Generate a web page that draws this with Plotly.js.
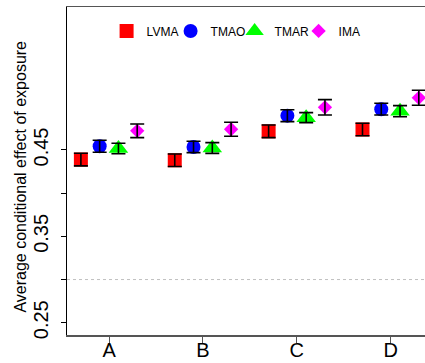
<!DOCTYPE html>
<html>
<head>
<meta charset="utf-8">
<script src="https://cdn.plot.ly/plotly-3.0.1.min.js"></script>
<style>
  html, body { margin: 0; padding: 0; background: #fff; }
  #chart { width: 425px; height: 363px; }
</style>
</head>
<body>
<div id="chart"></div>
<script>
// Exposure groups
const categories = ['A', 'B', 'C', 'D'];

// Estimated average conditional effect of exposure per method
const lvma = [0.4389, 0.4381, 0.4716, 0.4737];
const tmao = [0.4543, 0.4535, 0.4897, 0.4972];
const tmar = [0.4517, 0.4523, 0.4874, 0.4949];
const ima  = [0.4722, 0.4740, 0.4994, 0.5104];

// Half-widths of the confidence intervals
const lvmaErr = [0.0073, 0.0073, 0.0073, 0.0072];
const tmaoErr = [0.0069, 0.0066, 0.0069, 0.0068];
const tmarErr = [0.0060, 0.0062, 0.0058, 0.0064];
const imaErr  = [0.0079, 0.0081, 0.0089, 0.0087];

// y-axis ticks every 0.05, only alternate ones labelled
const yTickVals = [0.25, 0.30, 0.35, 0.40, 0.45];
const yTickText = ['0.25', '', '0.35', '', '0.45'];

const yTitle = 'Average conditional effect of exposure';

const FONT = 'Liberation Sans, Arial, Helvetica, sans-serif';
const catIndex = categories.map((_, i) => i);

const methods = [
  { name: 'LVMA', y: lvma, err: lvmaErr, color: '#ff0000', symbol: 'square',      size: 14, dodge: -0.3 },
  { name: 'TMAO', y: tmao, err: tmaoErr, color: '#0000ff', symbol: 'circle',      size: 14, dodge: -0.1 },
  { name: 'TMAR', y: tmar, err: tmarErr, color: '#00ff00', symbol: 'triangle-up', size: 17, dodge: 0.1 },
  { name: 'IMA',  y: ima,  err: imaErr,  color: '#ff00ff', symbol: 'diamond',     size: 11, dodge: 0.3 }
];

// Coloured point markers (these carry the legend)
const pointTraces = methods.map(m => ({
  type: 'scatter', mode: 'markers', name: m.name,
  x: catIndex.map(i => i + m.dodge), y: m.y,
  marker: { color: m.color, symbol: m.symbol, size: m.size, line: { width: 0 } },
  cliponaxis: false
}));

// Interval whiskers, layered above the markers
const whiskerTraces = methods.map(m => ({
  type: 'scatter', mode: 'markers', name: m.name, showlegend: false,
  x: catIndex.map(i => i + m.dodge), y: m.y,
  marker: { size: 1, opacity: 0 },
  error_y: { type: 'data', array: m.err, visible: true, color: '#000', thickness: 1.6, width: 7 },
  cliponaxis: false, hoverinfo: 'skip'
}));

const layout = {
  width: 425, height: 363,
  margin: { l: 67, r: 0, t: 7, b: 28 },
  paper_bgcolor: '#fff', plot_bgcolor: '#fff',
  font: { family: FONT, color: '#000' },
  showlegend: true,
  legend: {
    orientation: 'h', x: 0.1106, xanchor: 'left', y: 0.927, yanchor: 'middle',
    font: { family: FONT, size: 12, color: '#000' },
    bgcolor: 'rgba(0,0,0,0)', itemwidth: 30, entrywidth: 19
  },
  xaxis: {
    range: [-0.448, 3.366], showgrid: false, zeroline: false,
    showline: true, mirror: true, linecolor: '#555', linewidth: 1.5,
    ticks: 'outside', ticklen: 6, tickcolor: '#555',
    tickmode: 'array', tickvals: catIndex, ticktext: categories,
    ticklabelstandoff: -10,
    tickfont: { family: FONT, size: 20, color: '#000' }
  },
  yaxis: {
    range: [0.2358, 0.6155], showgrid: false, zeroline: false,
    showline: true, linecolor: '#000', linewidth: 1,
    ticks: 'outside', ticklen: 5, tickcolor: '#000',
    tickmode: 'array', tickvals: yTickVals, ticktext: yTickText,
    tickangle: -90, ticklabelstandoff: 5,
    tickfont: { family: FONT, size: 20, color: '#000' }
  },
  annotations: [{
    text: yTitle, textangle: -90, showarrow: false,
    xref: 'paper', x: -0.1285, xanchor: 'center',
    yref: 'paper', y: 0.483, yanchor: 'middle',
    font: { family: FONT, size: 16, color: '#000' }
  }],
  shapes: [{
    type: 'line', xref: 'paper', x0: 0, x1: 1, yref: 'y', y0: 0.30, y1: 0.30,
    line: { color: '#c0c0c0', width: 1, dash: 'dot' }
  }]
};

Plotly.newPlot('chart', pointTraces.concat(whiskerTraces), layout, { displayModeBar: false, staticPlot: true });
</script>
</body>
</html>
